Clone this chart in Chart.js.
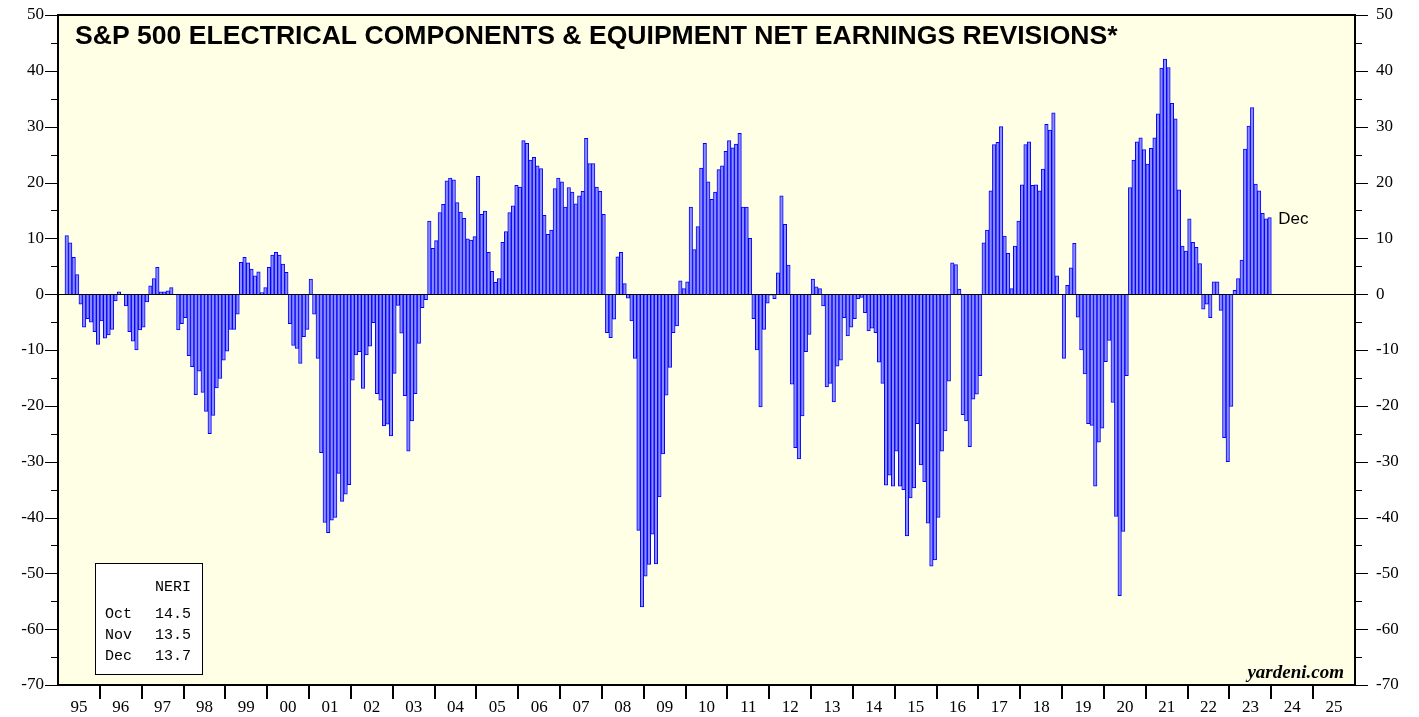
<!DOCTYPE html>
<html><head><meta charset="utf-8">
<script src="https://cdn.jsdelivr.net/npm/chart.js@4.4.1/dist/chart.umd.min.js"></script>
<style>html,body{margin:0;padding:0;background:#fff;}canvas{display:block;}</style>
</head><body>
<canvas id="c" width="1419" height="717"></canvas>
<script>
// ---- data ----
const startYear = 1995;
const startMonth = 3; // first bar: March 1995, last bar: December 2023
const yearLabels = ['95','96','97','98','99','00','01','02','03','04','05','06','07','08','09','10','11','12','13','14','15','16','17','18','19','20','21','22','23','24','25'];
const yTickValues = [50,40,30,20,10,0,-10,-20,-30,-40,-50,-60,-70];
const neri = [
 10.5, 9.2, 6.6, 3.5, -1.8, -5.9, -4.4, -5.0, -6.7, -9.0,
 -4.8, -7.9, -7.3, -6.3, -1.2, 0.4, 0, -2.1, -6.7, -8.4, -10.0, -6.4,
 -5.9, -1.4, 1.5, 2.8, 4.8, 0.4, 0.4, 0.6, 1.2, 0, -6.4, -5.3,
 -4.2, -11.0, -13.0, -18.0, -13.8, -17.6, -21.0, -25.0, -21.7, -16.8, -15.1, -11.8,
 -10.2, -6.3, -6.3, -3.6, 5.7, 6.6, 5.6, 4.5, 3.3, 4.0, 0.3, 1.2,
 4.8, 7.0, 7.5, 7.0, 5.4, 3.9, -5.3, -9.2, -9.7, -12.4, -7.6, -6.3,
 2.7, -3.6, -11.5, -28.4, -40.9, -42.7, -40.5, -40.0, -32.1, -37.1, -35.8, -34.1,
 -15.4, -10.9, -10.3, -16.9, -10.9, -9.3, -5.1, -17.8, -19.0, -23.6, -23.3, -25.4,
 -14.2, -2.0, -7.0, -18.2, -28.1, -22.7, -17.8, -8.8, -2.4, -1.0, 13.1, 8.2,
 9.6, 14.6, 16.1, 20.3, 20.8, 20.5, 16.4, 14.7, 13.6, 9.9, 9.7, 10.3,
 21.1, 14.3, 14.9, 7.5, 4.1, 2.1, 2.8, 9.3, 11.2, 14.6, 15.8, 19.5,
 19.2, 27.5, 27.0, 24.0, 24.5, 23.0, 22.5, 14.1, 10.7, 11.5, 18.9, 20.8,
 20.1, 15.6, 19.1, 18.3, 16.2, 17.6, 18.4, 27.9, 23.4, 23.4, 19.2, 18.4,
 14.3, -6.9, -7.8, -4.5, 6.7, 7.5, 1.9, -0.7, -4.8, -11.5, -42.3, -56.0,
 -50.5, -48.4, -43.0, -48.3, -36.3, -28.6, -18.1, -13.1, -6.9, -5.7, 2.4, 1.0,
 2.2, 15.6, 8.0, 12.1, 22.6, 27.0, 20.1, 17.0, 18.3, 22.3, 23.0, 25.6,
 27.5, 26.2, 26.9, 28.8, 15.6, 15.6, 10.0, -4.4, -10.0, -20.2, -6.3, -1.6,
 -0.2, -0.8, 3.8, 17.6, 12.5, 5.2, -16.1, -27.5, -29.5, -21.8, -10.3, -7.2,
 2.7, 1.3, 1.0, -2.1, -16.6, -16.0, -19.3, -12.9, -11.8, -4.2, -7.5, -5.9,
 -4.4, -0.8, -0.6, -3.3, -6.6, -6.1, -6.9, -12.2, -16.0, -34.2, -32.4, -34.4,
 -28.1, -34.4, -35.0, -43.3, -36.5, -34.7, -23.2, -30.6, -33.6, -41.0, -48.7, -47.6,
 -40.0, -28.1, -24.5, -15.6, 5.6, 5.3, 0.9, -21.6, -22.7, -27.3, -18.8, -17.9,
 -14.6, 9.2, 11.5, 18.5, 26.8, 27.2, 30.0, 10.4, 7.3, 1.0, 8.6, 13.1,
 19.6, 26.8, 27.3, 19.5, 19.6, 18.5, 22.4, 30.4, 29.4, 32.5, 3.3, 0,
 -11.5, 1.6, 4.7, 9.1, -4.1, -10.0, -14.3, -23.2, -23.5, -34.4, -26.5, -24.0,
 -12.1, -8.3, -19.4, -39.8, -54.0, -42.5, -14.6, 19.1, 24.0, 27.3, 28.0, 25.9,
 23.3, 26.1, 28.0, 32.3, 40.5, 42.1, 40.6, 34.2, 31.4, 18.7, 8.6, 7.7,
 13.5, 9.3, 8.4, 5.5, -2.7, -1.8, -4.2, 2.2, 2.2, -2.9, -25.7, -30.0,
 -20.1, 0.7, 2.8, 6.1, 26.0, 30.1, 33.4, 19.7, 18.5, 14.5, 13.5, 13.7
];
const legendTitle = 'NERI';
const legendMonths = ['Oct','Nov','Dec'];
const legendValues = ['14.5','13.5','13.7'];
const lastLabel = 'Dec';
const titleText = 'S&P 500 ELECTRICAL COMPONENTS & EQUIPMENT NET EARNINGS REVISIONS*';
const sourceText = 'yardeni.com';

// ---- build ----
const firstOffset = (startYear - 1995) * 12 + (startMonth - 1);
const points = neri.map((v, i) => ({ x: firstOffset + i + 0.5, y: v }));
const totalMonths = yearLabels.length * 12;

const framePlugin = {
  id: 'frame',
  beforeDraw(chart) {
    const { ctx, chartArea: a } = chart;
    ctx.save();
    ctx.fillStyle = '#ffffe6';
    ctx.fillRect(a.left, a.top, a.right - a.left, a.bottom - a.top);
    ctx.restore();
  },
  afterDatasetsDraw(chart) {
    const { ctx, chartArea: a, scales } = chart;
    const y = scales.y, x = scales.x;
    ctx.save();
    ctx.strokeStyle = '#000';
    ctx.lineWidth = 1;
    const y0 = Math.round(y.getPixelForValue(0)) + 0.5;
    ctx.beginPath(); ctx.moveTo(a.left, y0); ctx.lineTo(a.right, y0); ctx.stroke();
    ctx.lineWidth = 2;
    ctx.strokeRect(a.left, a.top, a.right - a.left, a.bottom - a.top);
    ctx.lineWidth = 1;
    for (let v = -70; v <= 50; v += 5) {
      const py = Math.round(y.getPixelForValue(v)) + 0.5;
      const len = (v % 10 === 0) ? 13 : 7;
      ctx.beginPath();
      ctx.moveTo(a.left - len, py); ctx.lineTo(a.left, py);
      ctx.moveTo(a.right, py); ctx.lineTo(a.right + len, py);
      ctx.stroke();
    }
    ctx.lineWidth = 2;
    for (let m = 12; m < totalMonths; m += 12) {
      const px = Math.round(x.getPixelForValue(m));
      ctx.beginPath(); ctx.moveTo(px, a.bottom); ctx.lineTo(px, a.bottom + 14); ctx.stroke();
    }
    ctx.fillStyle = '#000';
    let size = 23;
    ctx.font = 'bold ' + size + 'px "Liberation Sans", Arial, sans-serif';
    const w = ctx.measureText(titleText).width;
    size = size * 1043 / w;
    ctx.font = 'bold ' + size.toFixed(2) + 'px "Liberation Sans", Arial, sans-serif';
    ctx.textBaseline = 'alphabetic';
    ctx.textAlign = 'left';
    ctx.fillText(titleText, 75, 44);
    const lastX = x.getPixelForValue(firstOffset + neri.length);
    ctx.font = '17px "Liberation Sans", Arial, sans-serif';
    ctx.textBaseline = 'middle';
    ctx.fillText(lastLabel, lastX + 7, y.getPixelForValue(neri[neri.length - 1]) + 2);
    ctx.font = 'italic bold 19px "Liberation Serif", "Times New Roman", serif';
    ctx.textAlign = 'right';
    ctx.textBaseline = 'alphabetic';
    ctx.fillText(sourceText, a.right - 11, a.bottom - 7);
    const bx = 95, by = 563, bw = 107, bh = 111;
    ctx.fillStyle = '#fff';
    ctx.fillRect(bx, by, bw, bh);
    ctx.strokeStyle = '#000';
    ctx.lineWidth = 1;
    ctx.strokeRect(bx + 0.5, by + 0.5, bw, bh);
    ctx.fillStyle = '#000';
    ctx.font = '15px "Liberation Mono", "Courier New", monospace';
    ctx.textBaseline = 'middle';
    ctx.textAlign = 'right';
    ctx.fillText(legendTitle, 191, 587);
    for (let i = 0; i < legendMonths.length; i++) {
      const ry = 614 + i * 21;
      ctx.textAlign = 'left';
      ctx.fillText(legendMonths[i], 105, ry);
      ctx.textAlign = 'right';
      ctx.fillText(legendValues[i], 191, ry);
    }
    ctx.restore();
  }
};

const tickFont = { family: '"Liberation Serif", "Times New Roman", serif', size: 17 };
const noPad = s => { s.paddingTop = 0; s.paddingBottom = 0; s.paddingLeft = 0; s.paddingRight = 0; };

new Chart(document.getElementById('c').getContext('2d'), {
  type: 'bar',
  data: {
    datasets: [{
      data: points,
      backgroundColor: '#8c8cff',
      borderColor: '#0000ff',
      borderWidth: 1,
      barPercentage: 1,
      categoryPercentage: 1,
      yAxisID: 'y'
    }]
  },
  options: {
    responsive: false,
    animation: false,
    devicePixelRatio: 1,
    layout: { padding: { top: 15, left: 0, right: 0, bottom: 0 } },
    plugins: { legend: { display: false }, tooltip: { enabled: false } },
    scales: {
      x: {
        type: 'linear', min: 0, max: totalMonths, offset: false,
        grid: { display: false, drawTicks: false }, border: { display: false },
        afterBuildTicks: s => { s.ticks = yearLabels.map((l, i) => ({ value: i * 12 + 6 })); },
        ticks: {
          autoSkip: false, maxRotation: 0, minRotation: 0, color: '#000', font: tickFont, padding: 12,
          callback: v => yearLabels[Math.round((v - 6) / 12)]
        },
        afterFit: s => { s.height = 32; noPad(s); }
      },
      y: {
        position: 'left', min: -70, max: 50,
        grid: { display: false, drawTicks: false }, border: { display: false },
        afterBuildTicks: s => { s.ticks = yTickValues.map(v => ({ value: v })); },
        ticks: { color: '#000', font: tickFont, padding: 14 },
        afterFit: s => { s.width = 58; noPad(s); }
      },
      y2: {
        position: 'right', min: -70, max: 50,
        grid: { display: false, drawTicks: false }, border: { display: false },
        afterBuildTicks: s => { s.ticks = yTickValues.map(v => ({ value: v })); },
        ticks: { color: '#000', font: tickFont, padding: 21 },
        afterFit: s => { s.width = 64; noPad(s); }
      }
    }
  },
  plugins: [framePlugin]
});
</script>
</body></html>
